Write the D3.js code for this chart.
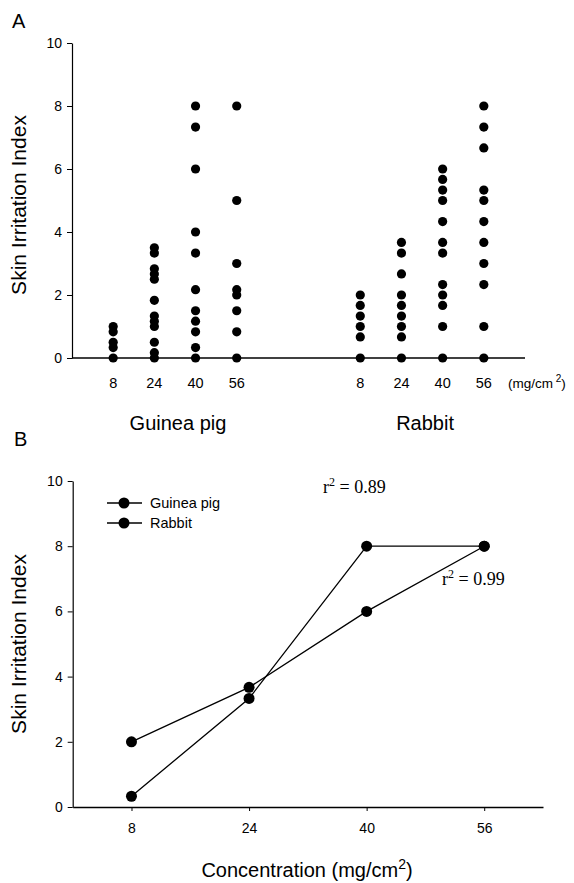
<!DOCTYPE html>
<html>
<head>
  <style>
    body{
      margin:0;
      background:#fff;
      font-family: "Liberation Sans", Arial, sans-serif;
    }
    .tick text{
      font-size:14px;
    }
    .serif{
      font-family: "Liberation Serif", "Times New Roman", serif;
    }
  </style>
  <script src="https://d3js.org/d3.v7.min.js"></script>
</head>
<body>
<div class="chart"></div>
<script>
// concentrations tested (mg/cm2)
const concentrations = [8, 24, 40, 56];
const species = ['Guinea pig', 'Rabbit'];

// panel A: individual skin irritation scores, one list per concentration
const guineaPigScores = [
  [0, 0.33, 0.5, 0.83, 1.0],
  [0, 0.17, 0.5, 1.0, 1.17, 1.33, 1.83, 2.5, 2.67, 2.83, 3.33, 3.5],
  [0, 0.33, 0.83, 1.17, 1.5, 2.17, 3.33, 4.0, 6.0, 7.33, 8.0],
  [0, 0.83, 1.5, 2.0, 2.17, 3.0, 5.0, 8.0]
];
const rabbitScores = [
  [0, 0.67, 1.0, 1.33, 1.67, 2.0],
  [0, 0.67, 1.0, 1.33, 1.67, 2.0, 2.67, 3.33, 3.67],
  [0, 1.0, 1.67, 2.0, 2.33, 3.33, 3.67, 4.33, 5.0, 5.33, 5.67, 6.0],
  [0, 1.0, 2.33, 3.0, 3.67, 4.33, 5.0, 5.33, 6.67, 7.33, 8.0]
];

// panel B: summary lines
const guineaPigLine = [0.33, 3.33, 8.0, 8.0];
const rabbitLine = [2.0, 3.67, 6.0, 8.0];
const rSquared = ['0.89', '0.99'];
const yTicks = [0, 2, 4, 6, 8, 10];

const width = 574, height = 883;
const svg = d3.select('.chart').append('svg')
  .attr('width', width)
  .attr('height', height);

// ---------- panel A ----------
const yA = d3.scaleLinear().domain([0, 10]).range([358, 43]);
// slots: guinea pig 1..4, rabbit 7..10
const xA = d3.scaleLinear().domain([0, 11]).range([72, 525]);
const slot = (g, i) => g * 6 + i + 1;

const gA = svg.append('g');

gA.append('g')
  .attr('transform', 'translate(72,0)')
  .call(d3.axisLeft(yA).tickValues(yTicks).tickSize(5).tickPadding(5).tickSizeOuter(0))
  .call(g => g.select('.domain').attr('stroke-width', 1.2));

gA.append('line')
  .attr('x1', xA(0)).attr('x2', xA(11))
  .attr('y1', yA(0)).attr('y2', yA(0))
  .attr('stroke', '#000').attr('stroke-width', 1.4);

const scoreSets = [guineaPigScores, rabbitScores];
scoreSets.forEach((set, g) => {
  set.forEach((scores, i) => {
    gA.selectAll(null)
      .data(scores)
      .enter().append('circle')
      .attr('cx', xA(slot(g, i)))
      .attr('cy', d => yA(d))
      .attr('r', 4.6)
      .attr('fill', '#000');

    gA.append('text')
      .attr('x', xA(slot(g, i)))
      .attr('y', 388)
      .attr('text-anchor', 'middle')
      .attr('font-size', 14.5)
      .text(concentrations[i]);
  });

  gA.append('text')
    .attr('x', (xA(slot(g, 0)) + xA(slot(g, 3))) / 2 + 3)
    .attr('y', 430)
    .attr('text-anchor', 'middle')
    .attr('font-size', 20)
    .text(species[g]);
});

const unitA = gA.append('text')
  .attr('x', 508)
  .attr('y', 388)
  .attr('font-size', 13.5);
unitA.append('tspan').text('(mg/cm');
unitA.append('tspan').attr('dy', -6).attr('font-size', 10).text(' 2');
unitA.append('tspan').attr('dy', 6).text(')');

gA.append('text')
  .attr('transform', 'translate(26,205) rotate(-90)')
  .attr('text-anchor', 'middle')
  .attr('font-size', 21)
  .text('Skin Irritation Index');

gA.append('text')
  .attr('x', 12).attr('y', 28)
  .attr('font-size', 20)
  .text('A');

// ---------- panel B ----------
const yB = d3.scaleLinear().domain([0, 10]).range([807, 481]);
const xB = d3.scaleLinear().domain([0, 64]).range([72.7, 543]);

const gB = svg.append('g');

gB.append('g')
  .attr('transform', 'translate(72.7,0)')
  .call(d3.axisLeft(yB).tickValues(yTicks).tickSize(5).tickPadding(5).tickSizeOuter(0))
  .call(g => g.select('.domain').attr('stroke-width', 1.2));

gB.append('g')
  .attr('transform', `translate(0,${yB(0)})`)
  .call(d3.axisBottom(xB).tickValues(concentrations).tickSize(4).tickPadding(12).tickSizeOuter(0))
  .call(g => g.select('.domain').attr('stroke-width', 1.4));

const lineGen = d3.line()
  .x((d, i) => xB(concentrations[i]))
  .y(d => yB(d));

[guineaPigLine, rabbitLine].forEach(series => {
  gB.append('path')
    .datum(series)
    .attr('d', lineGen)
    .attr('fill', 'none')
    .attr('stroke', '#000')
    .attr('stroke-width', 1.3);

  gB.selectAll(null)
    .data(series)
    .enter().append('circle')
    .attr('cx', (d, i) => xB(concentrations[i]))
    .attr('cy', d => yB(d))
    .attr('r', 5.5)
    .attr('fill', '#000');
});

// legend
const legend = gB.append('g')
  .selectAll('g')
  .data(species)
  .enter().append('g')
  .attr('transform', (d, i) => `translate(107,${503 + i * 20})`);
legend.append('line')
  .attr('x1', 0).attr('x2', 35)
  .attr('stroke', '#000').attr('stroke-width', 1.3);
legend.append('circle')
  .attr('cx', 17).attr('r', 5.5).attr('fill', '#000');
legend.append('text')
  .attr('x', 43).attr('dy', 5)
  .attr('font-size', 14.5)
  .text(d => d);

// r-squared notes
const rPos = [[323, 493], [442, 585]];
rSquared.forEach((v, i) => {
  const t = gB.append('text')
    .attr('class', 'serif')
    .attr('x', rPos[i][0]).attr('y', rPos[i][1])
    .attr('font-size', 18);
  t.append('tspan').text('r');
  t.append('tspan').attr('dy', -7).attr('font-size', 12).text('2');
  t.append('tspan').attr('dy', 7).text(' = ' + v);
});

gB.append('text')
  .attr('transform', 'translate(26,644) rotate(-90)')
  .attr('text-anchor', 'middle')
  .attr('font-size', 21)
  .text('Skin Irritation Index');

const xTitle = gB.append('text')
  .attr('x', 307).attr('y', 877)
  .attr('text-anchor', 'middle')
  .attr('font-size', 20);
xTitle.append('tspan').text('Concentration (mg/cm');
xTitle.append('tspan').attr('dy', -8).attr('font-size', 14).text('2');
xTitle.append('tspan').attr('dy', 8).text(')');

gB.append('text')
  .attr('x', 14).attr('y', 446)
  .attr('font-size', 20)
  .text('B');
</script>
</body>
</html>
